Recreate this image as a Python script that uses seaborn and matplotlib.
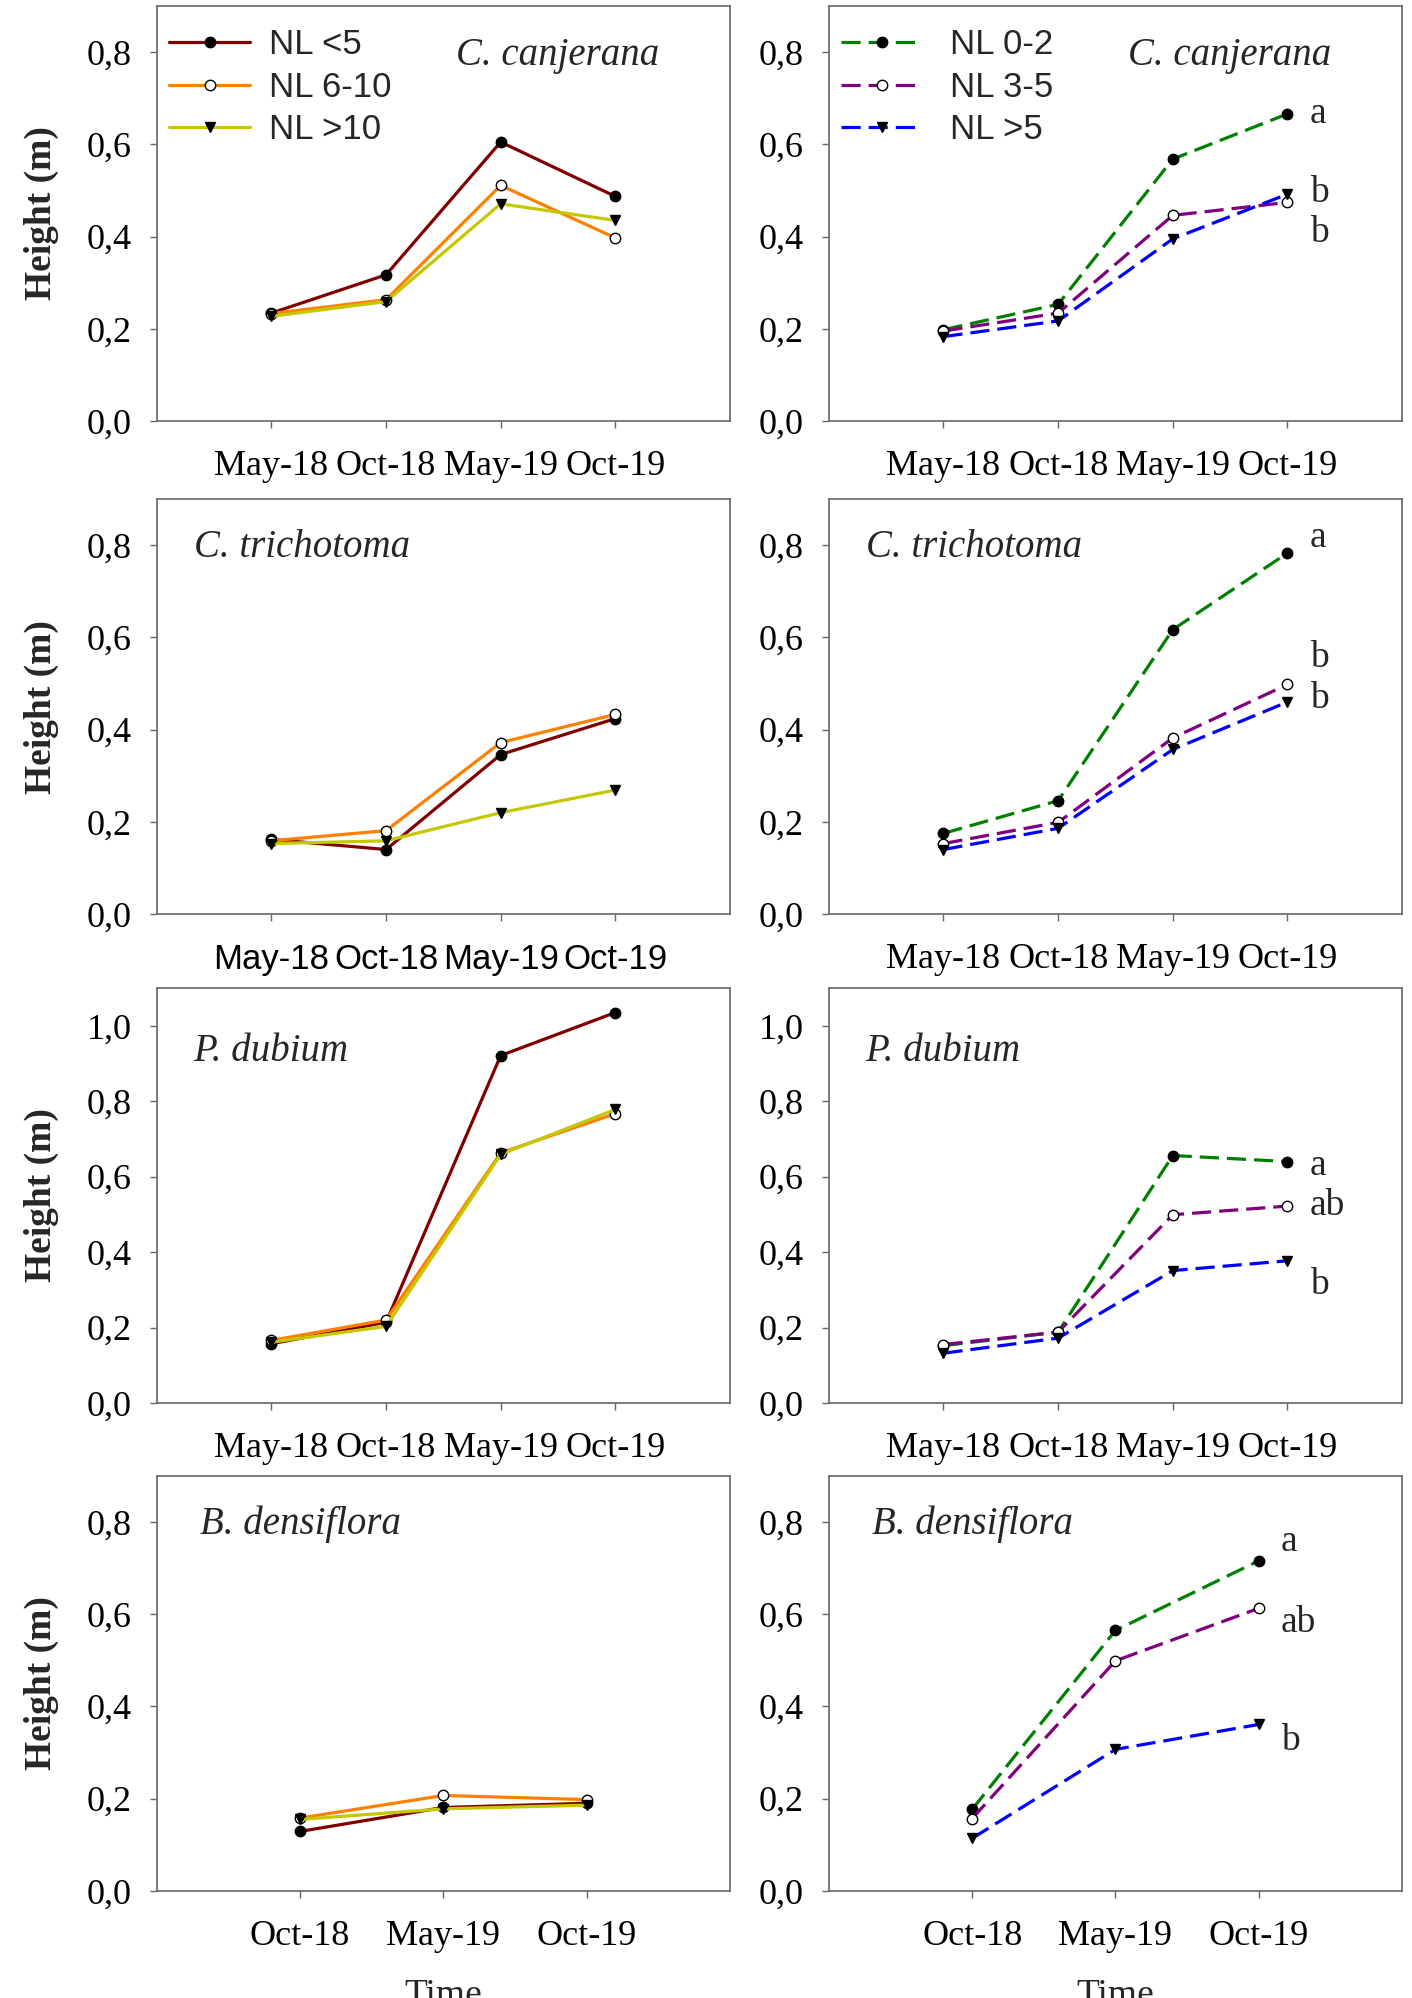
import matplotlib
matplotlib.use("Agg")
import matplotlib.pyplot as plt
from matplotlib.ticker import MultipleLocator, FuncFormatter
import numpy as np
import pandas as pd
import seaborn as sns

# sampling dates
months_4 = ["May-18", "Oct-18", "May-19", "Oct-19"]
months_3 = ["Oct-18", "May-19", "Oct-19"]

species = ["C. canjerana", "C. trichotoma", "P. dubium", "B. densiflora"]

groups_left = ["NL <5", "NL 6-10", "NL >10"]
groups_right = ["NL 0-2", "NL 3-5", "NL >5"]

# mean height (m), one row per group
canj_left = [[0.234, 0.317, 0.605, 0.487],
             [0.233, 0.263, 0.511, 0.397],
             [0.227, 0.259, 0.471, 0.435]]
canj_right = [[0.198, 0.253, 0.568, 0.666],
              [0.195, 0.234, 0.446, 0.474],
              [0.183, 0.217, 0.395, 0.492]]
tric_left = [[0.162, 0.140, 0.346, 0.424],
             [0.159, 0.181, 0.372, 0.433],
             [0.153, 0.159, 0.220, 0.269]]
tric_right = [[0.175, 0.246, 0.617, 0.783],
              [0.153, 0.199, 0.382, 0.498],
              [0.140, 0.186, 0.357, 0.460]]
dub_left = [[0.157, 0.214, 0.921, 1.035],
            [0.166, 0.220, 0.663, 0.767],
            [0.161, 0.203, 0.659, 0.778]]
dub_right = [[0.152, 0.188, 0.656, 0.640],
             [0.155, 0.188, 0.499, 0.522],
             [0.132, 0.172, 0.351, 0.377]]
dens_left = [[0.129, 0.181, 0.190],
             [0.158, 0.207, 0.198],
             [0.155, 0.178, 0.186]]
dens_right = [[0.177, 0.565, 0.716],
              [0.157, 0.499, 0.613],
              [0.114, 0.307, 0.361]]

# significance letters (right column, at last date)
canj_letters = ["a", "b", "b"]
canj_letter_y = [0.666, 0.494, 0.408]
tric_letters = ["a", "b", "b"]
tric_letter_y = [0.816, 0.556, 0.468]
dub_letters = ["a", "ab", "b"]
dub_letter_y = [0.628, 0.522, 0.313]
dens_letters = ["a", "ab", "b"]
dens_letter_y = [0.757, 0.582, 0.326]

colors_left = ["#800000", "#FF8000", "#C4C800"]
colors_right = ["#008000", "#800080", "#0000FF"]
marker_shapes = ["o", "o", "v"]
marker_faces = ["black", "white", "black"]

SERIF = "Liberation Serif"
SANS = "Liberation Sans"

sns.set_style("ticks")
plt.rcParams["font.family"] = [SERIF, "DejaVu Serif"]

fig = plt.figure(figsize=(14.12, 19.98), dpi=100)

col_x = [0.111, 0.587]
row_y = [0.7893, 0.5425, 0.2978, 0.0536]
ax_w, ax_h = 0.406, 0.2077


def comma_fmt(v, _):
    return f"{v:.1f}".replace(".", ",")


def draw_panel(ax, months, values, groups, colors, dash):
    n = len(months)
    df = pd.DataFrame({
        "t": np.tile(np.arange(n), len(groups)),
        "height": np.concatenate(values),
        "group": np.repeat(groups, n),
    })
    sns.lineplot(
        data=df, x="t", y="height",
        hue="group", hue_order=groups, palette=dict(zip(groups, colors)),
        style="group", style_order=groups,
        markers=dict(zip(groups, marker_shapes)),
        dashes=dict(zip(groups, [dash] * len(groups))),
        errorbar=None, legend=False, ax=ax,
        linewidth=2.3, markersize=7.5,
    )
    for line, face in zip(ax.lines, marker_faces):
        line.set_markerfacecolor(face)
        line.set_markeredgecolor("black")
        line.set_markeredgewidth(1.0)


panels = [
    (canj_left, canj_right, months_4, 0.9, canj_letters, canj_letter_y),
    (tric_left, tric_right, months_4, 0.9, tric_letters, tric_letter_y),
    (dub_left, dub_right, months_4, 1.1, dub_letters, dub_letter_y),
    (dens_left, dens_right, months_3, 0.9, dens_letters, dens_letter_y),
]
label_pos = [("right", 0.876, 0.858), ("left", 0.065, 0.860),
             ("left", 0.063, 0.825), ("left", 0.076, 0.860)]

for r, (vl, vr, months, ymax, letters, letter_y) in enumerate(panels):
    for c in range(2):
        ax = fig.add_axes([col_x[c], row_y[r], ax_w, ax_h])
        if c == 0:
            draw_panel(ax, months, vl, groups_left, colors_left, "")
        else:
            draw_panel(ax, months, vr, groups_right, colors_right, (6, 2.5))

        n = len(months)
        ax.set_xlim(-1, n)
        ax.set_ylim(0, ymax)
        ax.set_xticks(np.arange(n))
        ax.set_xticklabels(months)
        ax.yaxis.set_major_locator(MultipleLocator(0.2))
        ax.yaxis.set_major_formatter(FuncFormatter(comma_fmt))
        ax.tick_params(axis="both", direction="out", length=5, width=1,
                       color="#666666", labelsize=26, labelcolor="black")
        ax.tick_params(axis="x", pad=16)
        ax.tick_params(axis="y", pad=13)
        if r == 1 and c == 0:
            for lab in ax.get_xticklabels():
                lab.set_family(SANS)
                lab.set_fontsize(25)
        for sp in ax.spines.values():
            sp.set_visible(True)
            sp.set_color("#666666")
            sp.set_linewidth(1.2)

        if c == 0:
            ax.set_ylabel("Height (m)", fontsize=27, fontweight="bold")
            ax.yaxis.set_label_coords(-0.171, 0.5)
        else:
            ax.set_ylabel("")
        if r == 3:
            ax.set_xlabel("Time", fontsize=27)
            ax.xaxis.set_label_coords(0.5, -0.212)
        else:
            ax.set_xlabel("")

        ha, lx, ly = label_pos[r]
        ax.text(lx, ly, species[r], transform=ax.transAxes, ha=ha,
                va="baseline", fontsize=28, style="italic")

        if c == 1:
            for txt, yv in zip(letters, letter_y):
                ax.annotate(txt, xy=(n - 1, yv), xytext=(16, 0),
                            textcoords="offset points", ha="left",
                            va="center", fontsize=27)

        if r == 0:
            groups = groups_left if c == 0 else groups_right
            ax.legend(ax.lines[:3], groups, loc="upper left",
                      bbox_to_anchor=(0.021, 0.946), frameon=False,
                      prop={"family": SANS, "size": 25},
                      handlelength=2.35, handletextpad=0.55 if c == 0 else 0.8,
                      labelspacing=0.27, borderpad=0, borderaxespad=0)

fig.savefig("out.png", dpi=100)
